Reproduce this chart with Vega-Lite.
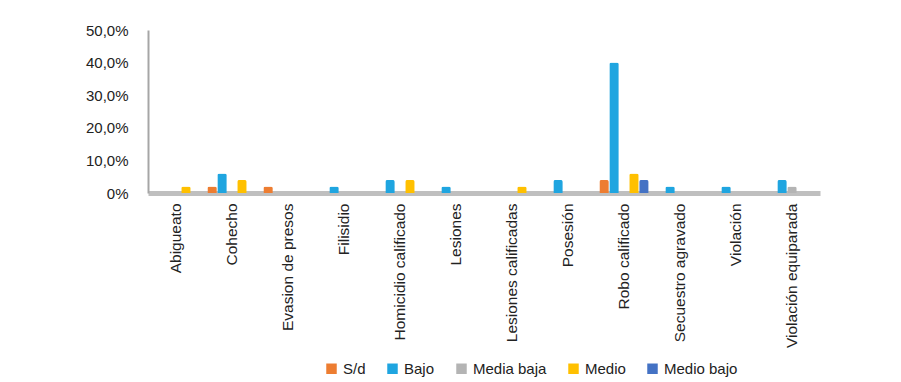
{
  "$schema": "https://vega.github.io/schema/vega-lite/v6.json",
  "width": 672,
  "height": 163,
  "autosize": {"type": "none"},
  "padding": {"left": 148, "top": 30, "right": 81, "bottom": 189},
  "background": "white",
  "config": {
    "view": {"stroke": null},
    "font": "Liberation Sans",
    "axis": {"labelFont": "Liberation Sans", "labelColor": "#222222"},
    "legend": {"labelFont": "Liberation Sans", "labelColor": "#222222"}
  },
  "data": {
    "values": [
      {"delito": "Abigueato", "nivel": "S/d", "pct": 0},
      {"delito": "Abigueato", "nivel": "Bajo", "pct": 0},
      {"delito": "Abigueato", "nivel": "Media baja", "pct": 0},
      {"delito": "Abigueato", "nivel": "Medio", "pct": 2},
      {"delito": "Abigueato", "nivel": "Medio bajo", "pct": 0},
      {"delito": "Cohecho", "nivel": "S/d", "pct": 2},
      {"delito": "Cohecho", "nivel": "Bajo", "pct": 6},
      {"delito": "Cohecho", "nivel": "Media baja", "pct": 0},
      {"delito": "Cohecho", "nivel": "Medio", "pct": 4},
      {"delito": "Cohecho", "nivel": "Medio bajo", "pct": 0},
      {"delito": "Evasion de presos", "nivel": "S/d", "pct": 2},
      {"delito": "Evasion de presos", "nivel": "Bajo", "pct": 0},
      {"delito": "Evasion de presos", "nivel": "Media baja", "pct": 0},
      {"delito": "Evasion de presos", "nivel": "Medio", "pct": 0},
      {"delito": "Evasion de presos", "nivel": "Medio bajo", "pct": 0},
      {"delito": "Filisidio", "nivel": "S/d", "pct": 0},
      {"delito": "Filisidio", "nivel": "Bajo", "pct": 2},
      {"delito": "Filisidio", "nivel": "Media baja", "pct": 0},
      {"delito": "Filisidio", "nivel": "Medio", "pct": 0},
      {"delito": "Filisidio", "nivel": "Medio bajo", "pct": 0},
      {"delito": "Homicidio calificado", "nivel": "S/d", "pct": 0},
      {"delito": "Homicidio calificado", "nivel": "Bajo", "pct": 4},
      {"delito": "Homicidio calificado", "nivel": "Media baja", "pct": 0},
      {"delito": "Homicidio calificado", "nivel": "Medio", "pct": 4},
      {"delito": "Homicidio calificado", "nivel": "Medio bajo", "pct": 0},
      {"delito": "Lesiones", "nivel": "S/d", "pct": 0},
      {"delito": "Lesiones", "nivel": "Bajo", "pct": 2},
      {"delito": "Lesiones", "nivel": "Media baja", "pct": 0},
      {"delito": "Lesiones", "nivel": "Medio", "pct": 0},
      {"delito": "Lesiones", "nivel": "Medio bajo", "pct": 0},
      {"delito": "Lesiones calificadas", "nivel": "S/d", "pct": 0},
      {"delito": "Lesiones calificadas", "nivel": "Bajo", "pct": 0},
      {"delito": "Lesiones calificadas", "nivel": "Media baja", "pct": 0},
      {"delito": "Lesiones calificadas", "nivel": "Medio", "pct": 2},
      {"delito": "Lesiones calificadas", "nivel": "Medio bajo", "pct": 0},
      {"delito": "Posesión", "nivel": "S/d", "pct": 0},
      {"delito": "Posesión", "nivel": "Bajo", "pct": 4},
      {"delito": "Posesión", "nivel": "Media baja", "pct": 0},
      {"delito": "Posesión", "nivel": "Medio", "pct": 0},
      {"delito": "Posesión", "nivel": "Medio bajo", "pct": 0},
      {"delito": "Robo calificado", "nivel": "S/d", "pct": 4},
      {"delito": "Robo calificado", "nivel": "Bajo", "pct": 40},
      {"delito": "Robo calificado", "nivel": "Media baja", "pct": 0},
      {"delito": "Robo calificado", "nivel": "Medio", "pct": 6},
      {"delito": "Robo calificado", "nivel": "Medio bajo", "pct": 4},
      {"delito": "Secuestro agravado", "nivel": "S/d", "pct": 0},
      {"delito": "Secuestro agravado", "nivel": "Bajo", "pct": 2},
      {"delito": "Secuestro agravado", "nivel": "Media baja", "pct": 0},
      {"delito": "Secuestro agravado", "nivel": "Medio", "pct": 0},
      {"delito": "Secuestro agravado", "nivel": "Medio bajo", "pct": 0},
      {"delito": "Violación", "nivel": "S/d", "pct": 0},
      {"delito": "Violación", "nivel": "Bajo", "pct": 2},
      {"delito": "Violación", "nivel": "Media baja", "pct": 0},
      {"delito": "Violación", "nivel": "Medio", "pct": 0},
      {"delito": "Violación", "nivel": "Medio bajo", "pct": 0},
      {"delito": "Violación equiparada", "nivel": "S/d", "pct": 0},
      {"delito": "Violación equiparada", "nivel": "Bajo", "pct": 4},
      {"delito": "Violación equiparada", "nivel": "Media baja", "pct": 2},
      {"delito": "Violación equiparada", "nivel": "Medio", "pct": 0},
      {"delito": "Violación equiparada", "nivel": "Medio bajo", "pct": 0}
    ]
  },
  "mark": {"type": "bar", "cornerRadiusTopLeft": 2, "cornerRadiusTopRight": 2},
  "encoding": {
    "x": {
      "field": "delito", "type": "nominal", "sort": null,
      "scale": {"paddingInner": 0.12, "paddingOuter": 0.06},
      "axis": {
        "title": null, "labelAngle": -90, "labelAlign": "right", "labelBaseline": "middle",
        "labelFontSize": 15.5, "labelPadding": 10, "ticks": false, "labelLimit": 0,
        "domain": true, "domainColor": "#bfbfbf", "domainWidth": 5
      }
    },
    "xOffset": {
      "field": "nivel", "type": "nominal",
      "sort": ["S/d", "Bajo", "Media baja", "Medio", "Medio bajo"],
      "scale": {"paddingInner": 0.05}
    },
    "y": {
      "field": "pct", "type": "quantitative",
      "scale": {"domain": [0, 50]},
      "axis": {
        "title": null, "values": [0, 10, 20, 30, 40, 50], "grid": false, "ticks": false,
        "labelOverlap": false,
        "domainColor": "#a6a6a6", "domainWidth": 2, "labelFontSize": 15, "labelPadding": 20,
        "labelExpr": "datum.value == 0 ? '0%' : replace(format(datum.value, '.1f'), '.', ',') + '%'"
      }
    },
    "color": {
      "field": "nivel", "type": "nominal",
      "scale": {
        "domain": ["S/d", "Bajo", "Media baja", "Medio", "Medio bajo"],
        "range": ["#ED7D31", "#1FA5E0", "#B4B4B4", "#FFC000", "#4472C4"]
      },
      "legend": {
        "title": null, "orient": "none", "direction": "horizontal",
        "legendX": 176, "legendY": 331, "symbolType": "square", "symbolSize": 110,
        "labelFontSize": 15, "columnPadding": 19, "symbolStrokeWidth": 0
      }
    }
  }
}
